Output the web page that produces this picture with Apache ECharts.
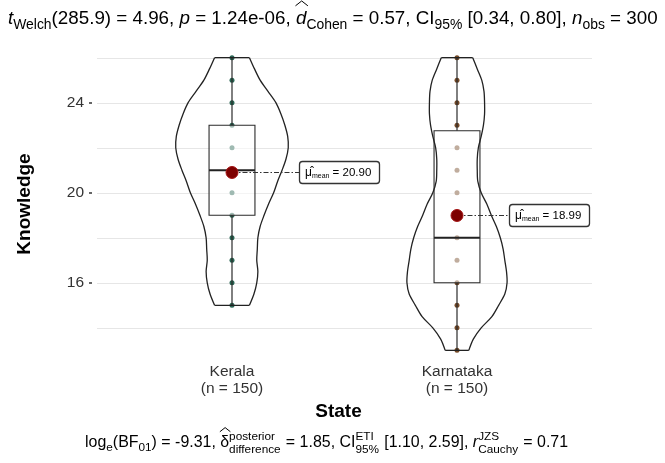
<!DOCTYPE html>
<html><head><meta charset="utf-8">
<script src="https://cdn.jsdelivr.net/npm/echarts@6/dist/echarts.min.js"></script>
<style>html,body{margin:0;padding:0;background:#fff}#c{width:665px;height:463px}</style>
</head><body><div id="c"></div>
<script>
// ---------------- data ----------------
const categories = ['Kerala', 'Karnataka'];
const groupN = [150, 150];
// [min, Q1, median, Q3, max]
const keralaBox = [15, 19, 21, 23, 26];
const karnatakaBox = [13, 16, 18, 22.75, 26];
const means = [20.90, 18.99];
const keralaPoints = [15, 16, 17, 18, 19, 20, 21, 22, 23, 24, 25, 26];
const karnatakaPoints = [13, 14, 15, 16, 17, 18, 19, 20, 21, 22, 23, 24, 25, 26];
// violin relative density (1 = widest)
const keralaDensityY = [15, 15.5, 16, 16.5, 17, 17.5, 18, 18.5, 19, 19.5, 20, 20.5, 21, 21.5, 22, 22.5, 23, 23.5, 24, 24.5, 25, 25.5, 26];
const keralaDensity = [0.31, 0.39, 0.44, 0.46, 0.44, 0.45, 0.46, 0.50, 0.57, 0.65, 0.74, 0.81, 0.89, 0.96, 1.0, 0.99, 0.94, 0.87, 0.78, 0.64, 0.50, 0.40, 0.31];
const karnatakaDensityY = [13, 13.5, 14, 14.5, 15, 15.5, 16, 16.5, 17, 17.5, 18, 18.5, 19, 19.5, 20, 20.5, 21, 21.5, 22, 22.5, 23, 23.5, 24, 24.5, 25, 25.5, 26];
const karnatakaDensity = [0.21, 0.29, 0.43, 0.62, 0.74, 0.85, 0.89, 0.88, 0.85, 0.82, 0.77, 0.70, 0.61, 0.53, 0.43, 0.37, 0.36, 0.36, 0.38, 0.43, 0.47, 0.49, 0.49, 0.48, 0.44, 0.36, 0.28];
const yTickLabels = [16, 20, 24];
const gridValues = [14, 16, 18, 20, 22, 24, 26];
// statistics text
const welch = { df: '285.9', t: '4.96', p: '1.24e-06', d: '0.57', ci: ['0.34', '0.80'], n: 300 };
const bayes = { logBF: '-9.31', delta: '1.85', ci: ['1.10', '2.59'], r: '0.71' };

// ---------------- helpers ----------------
const FONT = '"Liberation Sans", Arial, Helvetica, sans-serif';
const boxes = [keralaBox, karnatakaBox];
const violinY = [keralaDensityY, karnatakaDensityY];
const violinD = [keralaDensity, karnatakaDensity];
const pointColors = ['#2a6654', '#744a28'];
const labelOffset = [67, 52];

const cv = document.createElement('canvas');
const ctx = cv.getContext('2d');
function fontStr(size, it, bold) { return (it ? 'italic ' : '') + (bold ? 'bold ' : '') + size.toFixed(2) + 'px ' + FONT; }
function textW(t, size, it) { ctx.font = fontStr(size, it); return ctx.measureText(t).width; }

function layoutMath(pieces, base, startX, baseline, targetWidth) {
  function pass(b) {
    let x = 0; const els = [];
    const ss = b * 0.74;
    pieces.forEach(p => {
      if (p.stack) {
        const w1 = textW(p.stack[0], ss), w2 = textW(p.stack[1], ss);
        els.push({ t: p.stack[0], x: x, dy: -0.48 * b, s: ss });
        els.push({ t: p.stack[1], x: x, dy: 0.36 * b, s: ss });
        x += Math.max(w1, w2) + 0.05 * b;
      } else {
        const s = p.sub ? ss : b;
        const w = textW(p.t, s, p.it);
        els.push({ t: p.t, x: x, dy: p.sub ? 0.26 * b : 0, s: s, it: p.it, hat: p.hat, w: w });
        x += w;
      }
    });
    return { els: els, width: x };
  }
  let r = pass(base);
  if (targetWidth) { base = base * targetWidth / r.width; r = pass(base); }
  const out = [];
  r.els.forEach(e => {
    const by = baseline + e.dy;
    out.push({ type: 'text', x: startX + e.x, y: by - 0.3465 * e.s, z: 100,
      style: { text: e.t, font: fontStr(e.s, e.it), fill: '#000', align: 'left', verticalAlign: 'middle' } });
    if (e.hat) {
      const cx = startX + e.x + e.w * 0.55;
      const hw = 0.33 * base;
      out.push({ type: 'polyline', z: 100, shape: { points: [[cx - hw, baseline - 1.02 * base], [cx, baseline - 1.28 * base], [cx + hw, baseline - 1.02 * base]] },
        style: { stroke: '#000', lineWidth: 1, fill: null } });
    }
  });
  return out;
}

const titlePieces = [
  { t: 't', it: true }, { t: 'Welch', sub: true }, { t: '(' + welch.df + ') = ' + welch.t + ', ' },
  { t: 'p', it: true }, { t: ' = ' + welch.p + ', ' },
  { t: 'd', it: true, hat: true }, { t: 'Cohen', sub: true }, { t: ' = ' + welch.d + ', CI' },
  { t: '95%', sub: true }, { t: ' [' + welch.ci[0] + ', ' + welch.ci[1] + '], ' },
  { t: 'n', it: true }, { t: 'obs', sub: true }, { t: ' = ' + welch.n }
];
const captionPieces = [
  { t: 'log' }, { t: 'e', sub: true }, { t: '(BF' }, { t: '01', sub: true }, { t: ') = ' + bayes.logBF + ', ' },
  { t: 'δ', hat: true }, { stack: ['posterior', 'difference'] }, { t: ' = ' + bayes.delta + ', CI' },
  { stack: ['ETI', '95%'] }, { t: ' [' + bayes.ci[0] + ', ' + bayes.ci[1] + '], ' },
  { t: 'r', it: true }, { stack: ['JZS', 'Cauchy'] }, { t: ' = ' + bayes.r }
];
const graphics = [].concat(
  layoutMath(titlePieces, 17, 8, 25, 650),
  layoutMath(captionPieces, 13, 85, 448, 483)
);

// ---------------- chart ----------------
const chart = echarts.init(document.getElementById('c'), null, { renderer: 'canvas' });
const option = {
  animation: false,
  backgroundColor: '#fff',
  textStyle: { fontFamily: FONT },
  grid: { left: 97, right: 73, top: 43, bottom: 98 },
  xAxis: {
    type: 'value', min: 0.4, max: 2.6,
    axisLine: { show: false }, axisTick: { show: false }, splitLine: { show: false },
    axisLabel: {
      customValues: [1, 2],
      formatter: v => categories[Math.round(v) - 1] + '\n(n = ' + groupN[Math.round(v) - 1] + ')',
      fontSize: 15.5, color: '#333', lineHeight: 17, margin: -2, fontFamily: FONT
    },
    name: 'State', nameLocation: 'middle', nameGap: 27,
    nameTextStyle: { fontSize: 19, fontWeight: 'bold', color: '#000', fontFamily: FONT, padding: [0, 12, 0, 0] }
  },
  yAxis: {
    type: 'value', min: 12.35, max: 26.65, offset: 5,
    axisLine: { show: false },
    axisTick: { show: true, customValues: yTickLabels, length: 3, lineStyle: { color: '#333', width: 1.5 } },
    splitLine: { show: false },
    axisLabel: { customValues: yTickLabels, fontSize: 15.5, color: '#333', margin: 8, fontFamily: FONT },
    name: 'Knowledge', nameLocation: 'middle', nameRotate: 90, nameGap: 58,
    nameTextStyle: { fontSize: 19, fontWeight: 'bold', color: '#000', fontFamily: FONT }
  },
  graphic: { elements: graphics },
  series: [
    { // grid lines
      type: 'custom', z: 1, silent: true,
      data: gridValues.map(v => [1, v]),
      encode: { x: 0, y: 1 },
      renderItem: (params, api) => {
        const y = Math.round(api.coord([1, api.value(1)])[1]) + 0.5;
        const cs = params.coordSys;
        return { type: 'line', shape: { x1: cs.x, y1: y, x2: cs.x + cs.width, y2: y }, style: { stroke: '#e6e6e6', lineWidth: 1 } };
      }
    },
    {
      type: 'scatter', z: 2, silent: true, symbolSize: 5,
      data: keralaPoints.map(v => [1, v]),
      itemStyle: { color: pointColors[0], opacity: 1 }
    },
    {
      type: 'scatter', z: 2, silent: true, symbolSize: 5,
      data: karnatakaPoints.map(v => [2, v]),
      itemStyle: { color: pointColors[1], opacity: 1 }
    },
    { // boxplots
      type: 'custom', z: 3, silent: true,
      data: boxes.map((b, i) => [i + 1, b[2]]),
      encode: { x: 0, y: 1 },
      renderItem: (params, api) => {
        const g = params.dataIndex, s = boxes[g], x = g + 1;
        const cx = api.coord([x, s[2]])[0];
        const hw = api.size([1, 0])[0] * 0.102;
        const ys = s.map(v => api.coord([x, v])[1]);
        const st = { stroke: '#2b2b2b', lineWidth: 1.2 };
        return { type: 'group', children: [
          { type: 'line', shape: { x1: cx, y1: ys[0], x2: cx, y2: ys[1] }, style: st },
          { type: 'line', shape: { x1: cx, y1: ys[3], x2: cx, y2: ys[4] }, style: st },
          { type: 'rect', shape: { x: cx - hw, y: ys[3], width: 2 * hw, height: ys[1] - ys[3] }, style: { fill: 'rgba(255,255,255,0.55)', stroke: '#2b2b2b', lineWidth: 1.1 } },
          { type: 'line', shape: { x1: cx - hw, y1: ys[2], x2: cx + hw, y2: ys[2] }, style: { stroke: '#222', lineWidth: 2 } }
        ] };
      }
    },
    { // violins
      type: 'custom', z: 4, silent: true,
      data: violinY.map((ys, i) => [i + 1, ys[0]]),
      encode: { x: 0, y: 1 },
      renderItem: (params, api) => {
        const g = params.dataIndex, x = g + 1;
        const ys = violinY[g], ds = violinD[g];
        const cx = api.coord([x, ys[0]])[0];
        const maxHalf = api.size([1, 0])[0] * 0.25;
        const left = [], right = [];
        for (let i = 0; i < ys.length; i++) {
          const py = api.coord([x, ys[i]])[1];
          left.push([cx - ds[i] * maxHalf, py]);
          right.push([cx + ds[i] * maxHalf, py]);
        }
        const st = { stroke: '#222', lineWidth: 1.3, fill: null };
        const n = ys.length - 1;
        return { type: 'group', children: [
          { type: 'polyline', shape: { points: left, smooth: 0.3 }, style: st },
          { type: 'polyline', shape: { points: right, smooth: 0.3 }, style: st },
          { type: 'line', shape: { x1: left[0][0], y1: left[0][1], x2: right[0][0], y2: right[0][1] }, style: st },
          { type: 'line', shape: { x1: left[n][0], y1: left[n][1], x2: right[n][0], y2: right[n][1] }, style: st }
        ] };
      }
    },
    { // mean labels
      type: 'custom', z: 5, silent: true,
      data: means.map((m, i) => [i + 1, m]),
      encode: { x: 0, y: 1 },
      renderItem: (params, api) => {
        const g = params.dataIndex;
        const p = api.coord([g + 1, means[g]]);
        const bx = p[0] + labelOffset[g];
        const by = Math.round(p[1]) + 0.5;
        return { type: 'group', children: [
          { type: 'line', shape: { x1: p[0], y1: by, x2: bx, y2: by }, style: { stroke: '#333', lineWidth: 1.1, lineDash: [5, 2, 1.5, 2] } },
          { type: 'rect', shape: { x: bx + 0.5, y: by - 11, width: 80, height: 22, r: 3 }, style: { fill: '#fff', stroke: '#333', lineWidth: 1.3 } },
          { type: 'text', x: bx + 6, y: by, style: {
            text: '{mu|μ\u0302}{sub|mean}{v| = ' + means[g].toFixed(2) + '}',
            align: 'left', verticalAlign: 'middle',
            rich: {
              mu: { fontSize: 12, fontFamily: FONT, fill: '#000', lineHeight: 15 },
              sub: { fontSize: 7, fontFamily: FONT, fill: '#000', lineHeight: 7, verticalAlign: 'bottom' },
              v: { fontSize: 11.5, fontFamily: FONT, fill: '#000', lineHeight: 15 }
            }
          } }
        ] };
      }
    },
    {
      type: 'scatter', z: 6, silent: true, symbolSize: 12,
      data: means.map((m, i) => [i + 1, m]),
      itemStyle: { color: '#7d0000', borderColor: '#a51515', borderWidth: 1, opacity: 1 }
    }
  ]
};
chart.setOption(option);
</script>
</body></html>
